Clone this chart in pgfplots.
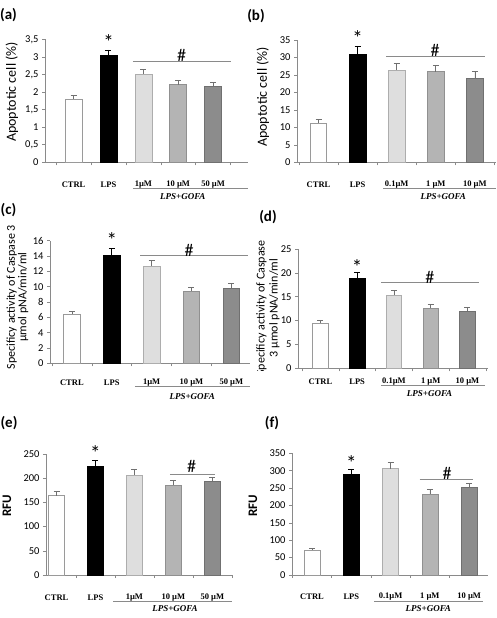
\documentclass[border=0pt]{standalone}
\usepackage{fontspec}
\setmainfont{Carlito}
\newfontfamily\carlito{Carlito}
\newfontfamily\libserif{Liberation Serif}
\usepackage{pgfplots}
\pgfplotsset{compat=1.18}
\definecolor{axgray}{HTML}{8A8A8A}
\definecolor{bord1}{HTML}{9A9A9A}
\definecolor{fill3}{HTML}{DEDEDE}
\definecolor{bord3}{HTML}{ADADAD}
\definecolor{fill4}{HTML}{B4B4B4}
\definecolor{bord4}{HTML}{909090}
\definecolor{fill5}{HTML}{8C8C8C}
\definecolor{bord5}{HTML}{707070}
\definecolor{errc}{HTML}{707070}
\newcommand\numfont{\carlito\fontsize{10.5}{12}\selectfont}
\newcommand\catfont{\libserif\bfseries\fontsize{8.5}{10}\selectfont}
\pgfplotsset{
  panel/.style={
    scale only axis, clip=false, anchor=south west,
    axis x line*=bottom, axis y line*=left,
    axis line style={draw=axgray, line width=0.6pt},
    ymin=0,
    xtick={0,1,2,3,4},
    major x tick style={draw=none},
    minor xtick={-0.5,0.5,1.5,2.5,3.5,4.5},
    minor x tick style={draw=axgray, line width=0.5pt},
    tick align=outside,
    major tick length=3pt, minor tick length=3pt,
    y tick style={draw=axgray, line width=0.5pt},
    yticklabel style={font=\numfont, text=black},
    xticklabel style={font=\catfont, anchor=center},
    /pgf/number format/assume math mode=true,
  },
  eb/.style={error bars/.cd, y dir=plus, y explicit,
    error bar style={draw=#1, line width=0.6pt},
    error mark=-,
    error mark options={rotate=90, draw=#1, mark size=3pt, line width=0.6pt}},
  bA/.style={ybar, bar shift=0pt, fill=white, draw=bord1, line width=0.6pt, eb=errc},
  bB/.style={ybar, bar shift=0pt, fill=black, draw=black, line width=0.6pt, eb=black},
  bC/.style={ybar, bar shift=0pt, fill=fill3, draw=bord3, line width=0.6pt, eb=errc},
  bD/.style={ybar, bar shift=0pt, fill=fill4, draw=bord4, line width=0.6pt, eb=errc},
  bE/.style={ybar, bar shift=0pt, fill=fill5, draw=bord5, line width=0.6pt, eb=errc},
}
\tikzset{
  hashline/.style={draw=axgray, line width=0.8pt},
  gofaline/.style={draw=axgray, line width=0.5pt},
  hsym/.style={font=\carlito\fontsize{18}{19}\selectfont, inner sep=0pt},
  ssym/.style={font=\carlito\fontsize{21}{22}\selectfont, inner sep=0pt},
  gofa/.style={font=\libserif\bfseries\itshape\fontsize{9}{10}\selectfont, inner sep=0pt},
  plab/.style={font=\carlito\bfseries\fontsize{15}{16}\selectfont, inner sep=0pt},
  ylab/.style={rotate=90, font=\carlito\fontsize{14}{16}\selectfont, inner sep=0pt},
}
\begin{document}
\begin{tikzpicture}
\path[use as bounding box] (0pt,0pt) rectangle (497pt,618pt);

% ---------- (a)
\begin{axis}[panel, at={(45pt,455.7pt)}, width=203pt, height=123pt,
  ymax=3.5, ytick={0,0.5,1,1.5,2,2.5,3,3.5}, /pgf/number format/use comma,
  xmin=-0.82, xmax=5.0, bar width=17pt,
  xticklabels={CTRL,LPS,1µM,10 µM,50 µM}, xticklabel style={yshift=-19.4pt}]
\addplot[bA] coordinates {(0,1.80) +- (0,0.10)};
\addplot[bB] coordinates {(1,3.04) +- (0,0.16)};
\addplot[bC] coordinates {(2,2.51) +- (0,0.14)};
\addplot[bD] coordinates {(3,2.21) +- (0,0.13)};
\addplot[bE] coordinates {(4,2.16) +- (0,0.12)};
\draw[hashline] (axis cs:1.70,2.87) -- (axis cs:4.51,2.87);
\node[hsym] at (axis cs:3.10,3.04) {\#};
\node[ssym] at (axis cs:1,3.43) {*};
\draw[gofaline] ([yshift=-25.7pt]axis cs:1.70,0) -- ([yshift=-25.7pt]axis cs:5.0,0);
\node[gofa] at ([yshift=-34.4pt]axis cs:3.13,0) {LPS+GOFA};
\end{axis}

% ---------- (b)
\begin{axis}[panel, at={(297pt,455.7pt)}, width=199pt, height=122.3pt,
  ymax=35, ytick={0,5,10,15,20,25,30,35},
  xmin=-0.55, xmax=4.54, bar width=16.5pt,
  xticklabels={CTRL,LPS,0.1µM,1 µM,10 µM}, xticklabel style={yshift=-19.4pt}]
\addplot[bA] coordinates {(0,11.3) +- (0,1.0)};
\addplot[bB] coordinates {(1,30.9) +- (0,2.4)};
\addplot[bC] coordinates {(2,26.4) +- (0,1.9)};
\addplot[bD] coordinates {(3,25.9) +- (0,1.9)};
\addplot[bE] coordinates {(4,24.0) +- (0,1.9)};
\draw[hashline] (axis cs:1.73,30.2) -- (axis cs:4.26,30.2);
\node[hsym] at (axis cs:2.98,31.9) {\#};
\node[ssym] at (axis cs:1,35.6) {*};
\draw[gofaline] ([yshift=-25.7pt]axis cs:1.65,0) -- ([yshift=-25.7pt]axis cs:4.54,0);
\node[gofa] at ([yshift=-34.7pt]axis cs:3.19,0) {LPS+GOFA};
\end{axis}

% ---------- (c)
\begin{axis}[panel, at={(50pt,254.7pt)}, width=200pt, height=122.6pt,
  ymax=16, ytick={0,2,4,6,8,10,12,14,16},
  xmin=-0.55, xmax=4.47, bar width=16.5pt,
  xticklabels={CTRL,LPS,1µM,10 µM,50 µM}, xticklabel style={yshift=-16.7pt}]
\addplot[bA] coordinates {(0,6.45) +- (0,0.40)};
\addplot[bB] coordinates {(1,14.1) +- (0,0.85)};
\addplot[bC] coordinates {(2,12.7) +- (0,0.75)};
\addplot[bD] coordinates {(3,9.4) +- (0,0.55)};
\addplot[bE] coordinates {(4,9.85) +- (0,0.55)};
\draw[hashline] (axis cs:1.71,14.05) -- (axis cs:4.42,14.05);
\node[hsym] at (axis cs:2.94,14.7) {\#};
\node[ssym] at (axis cs:1,16.1) {*};
\draw[gofaline] ([yshift=-23.4pt]axis cs:1.58,0) -- ([yshift=-23.4pt]axis cs:4.47,0);
\node[gofa] at ([yshift=-33.4pt]axis cs:3.02,0) {LPS+GOFA};
\end{axis}

% ---------- (d)
\begin{axis}[panel, at={(298pt,249.7pt)}, width=190pt, height=119.3pt,
  ymax=25, ytick={0,5,10,15,20,25},
  xmin=-0.61, xmax=4.56, bar width=15.5pt,
  xticklabels={CTRL,LPS,0.1µM,1 µM,10 µM}, xticklabel style={yshift=-10pt}]
\addplot[bA] coordinates {(0,9.4) +- (0,0.6)};
\addplot[bB] coordinates {(1,18.9) +- (0,1.15)};
\addplot[bC] coordinates {(2,15.4) +- (0,1.0)};
\addplot[bD] coordinates {(3,12.6) +- (0,0.9)};
\addplot[bE] coordinates {(4,11.9) +- (0,0.8)};
\draw[hashline] (axis cs:1.65,17.95) -- (axis cs:4.31,17.95);
\node[hsym] at (axis cs:2.98,19.1) {\#};
\node[ssym] at (axis cs:1,21.3) {*};
\draw[gofaline] ([yshift=-16.7pt]axis cs:1.65,0) -- ([yshift=-16.7pt]axis cs:4.48,0);
\node[gofa] at ([yshift=-25pt]axis cs:2.97,0) {LPS+GOFA};
\end{axis}

% ---------- (e)
\begin{axis}[panel, at={(46pt,43pt)}, width=187pt, height=121pt,
  ymax=250, ytick={0,50,100,150,200,250},
  xmin=-0.27, xmax=4.53, bar width=16pt,
  xticklabels={CTRL,LPS,1µM,10 µM,50 µM}, xticklabel style={yshift=-19.3pt}]
\addplot[bA] coordinates {(0,164) +- (0,9)};
\addplot[bB] coordinates {(1,224) +- (0,12)};
\addplot[bC] coordinates {(2,207) +- (0,11)};
\addplot[bD] coordinates {(3,185) +- (0,10)};
\addplot[bE] coordinates {(4,193) +- (0,9)};
\draw[hashline] (axis cs:2.91,208.7) -- (axis cs:4.07,208.7);
\node[hsym] at (axis cs:3.47,224.6) {\#};
\node[ssym] at (axis cs:1,251) {*};
\draw[gofaline] ([yshift=-26.7pt]axis cs:1.45,0) -- ([yshift=-26.7pt]axis cs:4.5,0);
\node[gofa] at ([yshift=-34pt]axis cs:3.04,0) {LPS+GOFA};
\end{axis}

% ---------- (f)
\begin{axis}[panel, at={(292pt,43pt)}, width=196pt, height=121.7pt,
  ymax=350, ytick={0,50,100,150,200,250,300,350},
  xmin=-0.51, xmax=4.48, bar width=16pt,
  xticklabels={CTRL,LPS,0.1µM,1 µM,10 µM}, xticklabel style={yshift=-19pt}]
\addplot[bA] coordinates {(0,72) +- (0,5)};
\addplot[bB] coordinates {(1,289) +- (0,16)};
\addplot[bC] coordinates {(2,306) +- (0,17)};
\addplot[bD] coordinates {(3,233) +- (0,14)};
\addplot[bE] coordinates {(4,251) +- (0,14)};
\draw[hashline] (axis cs:2.74,275.3) -- (axis cs:4.10,275.3);
\node[hsym] at (axis cs:3.44,291.4) {\#};
\node[ssym] at (axis cs:1,323) {*};
\draw[gofaline] ([yshift=-26.7pt]axis cs:1.58,0) -- ([yshift=-26.7pt]axis cs:4.36,0);
\node[gofa] at ([yshift=-33.3pt]axis cs:2.96,0) {LPS+GOFA};
\end{axis}

% ---------- labels
\node[plab] at (8.5pt,603pt) {(a)};
\node[plab] at (256pt,602pt) {(b)};
\node[plab] at (8.5pt,408pt) {(c)};
\node[plab] at (268pt,401pt) {(d)};
\node[plab] at (9pt,195pt) {(e)};
\node[plab] at (272pt,195pt) {(f)};

\node[ylab] at (12pt,526pt) {Apoptotic cell (\%)};
\node[ylab] at (263pt,521pt) {Apoptotic cell (\%)};
\node[rotate=90, align=center, font=\carlito\fontsize{12}{11.5}\selectfont, inner sep=0pt]
  at (17.5pt,321pt) {Specificy activity of Caspase 3\\µmol pNA/min/ml};
\begin{scope}
\clip (248pt,247pt) rectangle (296pt,400pt);
\node[rotate=90, align=center, font=\carlito\fontsize{12}{13}\selectfont, inner sep=0pt]
  at (268pt,310pt) {Specificy activity of Caspase\\3 µmol pNA/min/ml};
\end{scope}
\node[rotate=90, font=\carlito\bfseries\fontsize{13}{14}\selectfont, inner sep=0pt] at (7pt,112pt) {RFU};
\node[rotate=90, font=\carlito\bfseries\fontsize{13}{14}\selectfont, inner sep=0pt] at (253pt,112pt) {RFU};
\end{tikzpicture}
\end{document}
